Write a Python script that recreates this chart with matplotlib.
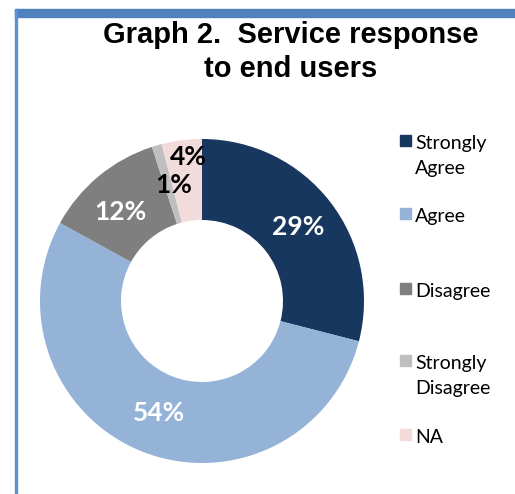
import numpy as np
import matplotlib.pyplot as plt
from matplotlib.patches import Rectangle

# data
categories = ['Strongly\nAgree', 'Agree', 'Disagree', 'Strongly\nDisagree', 'NA']
shares = [29, 54, 12, 1, 4]
colors = ['#17375E', '#95B3D7', '#7F7F7F', '#BFBFBF', '#F2DCDB']
label_colors = ['white', 'white', 'white', 'black', 'black']

fig = plt.figure(figsize=(5.15, 4.94), dpi=100)

# blue frame (top bar + left line)
fig.patches.append(Rectangle((15 / 515, 1 - 17 / 494), 500 / 515, 8 / 494,
                             transform=fig.transFigure, color='#4F81BD', zorder=5))
fig.patches.append(Rectangle((15 / 515, 0), 2 / 515, 1 - 9 / 494,
                             transform=fig.transFigure, color='#5B8FD6', zorder=5))

fig.text(291 / 515, 1 - 52 / 494, 'Graph 2.  Service response\nto end users',
         ha='center', va='center', fontsize=21, fontweight='bold',
         family='Liberation Sans', linespacing=1.25)

# donut
cx, cy, r = 202, 301, 162
ax = fig.add_axes([(cx - r) / 515, 1 - (cy + r) / 494, 2 * r / 515, 2 * r / 494])
wedges, _ = ax.pie(shares, colors=colors, startangle=90, counterclock=False,
                   radius=1.0, wedgeprops=dict(width=0.5, edgecolor='none'))
ax.set_aspect('auto')
ax.set_xlim(-1, 1)
ax.set_ylim(-1, 1)
ax.axis('off')

# percent labels
label_pos = [(298, 227), (159, 413), (120, 212), (174, 185), (188, 157)]
for (px, py), v, c in zip(label_pos, shares, label_colors):
    fig.text(px / 515, 1 - py / 494, f'{v}%', ha='center', va='center',
             fontsize=19, fontweight='bold', family='Lato', color=c)

# legend
legend_y = [141, 214, 289, 361, 435]
for y, name, c in zip(legend_y, categories, colors):
    fig.patches.append(Rectangle((400 / 515, 1 - (y + 5) / 494), 11 / 515, 11 / 494,
                                 transform=fig.transFigure, color=c))
    fig.text(415 / 515, 1 - (y - 6) / 494, name, ha='left', va='top',
             fontsize=14, family='Lato', linespacing=1.55)

fig.savefig('out.png', dpi=100)
